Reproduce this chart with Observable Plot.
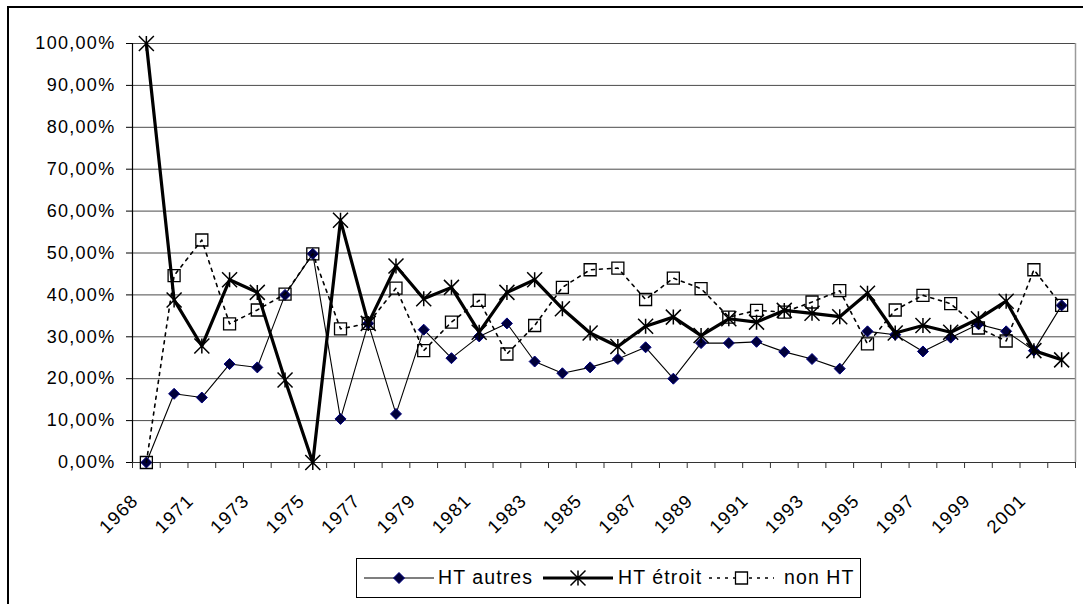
<!DOCTYPE html>
<html>
<head>
<meta charset="utf-8">
<script src="https://cdn.jsdelivr.net/npm/d3@7"></script>
<script src="https://cdn.jsdelivr.net/npm/@observablehq/plot@0.6"></script>
<style>
  html, body { margin: 0; padding: 0; background: #fff; overflow: hidden; }
  #wrap { position: relative; width: 1083px; height: 604px; overflow: hidden; font-family: "Liberation Sans", Arial, sans-serif; }
  #border { position: absolute; left: 7px; top: 6px; width: 3000px; height: 3000px; border-left: 2px solid #000; border-top: 2px solid #000; }
  #chart { position: absolute; left: 0; top: 0; }
  #chart svg text { letter-spacing: 1.3px; }
  #legend { position: absolute; left: 356px; top: 558px; width: 505px; height: 40px; box-sizing: border-box; border: 1px solid #000; background: #fff; }
  #legend .it { position: absolute; top: 0; height: 38px; }
  #legend .tx { position: absolute; top: 6px; font-size: 19.5px; letter-spacing: 1.1px; color: #000; white-space: nowrap; line-height: 24px; }
</style>
</head>
<body>
<div id="wrap">
  <div id="border"></div>
  <div id="chart"></div>
  <div id="legend"></div>
</div>
<script>
// ---- data ----
const years = [1968, 1970, 1971, 1972, 1973, 1974, 1975, 1976, 1977, 1978, 1979, 1980,
  1981, 1982, 1983, 1984, 1985, 1986, 1987, 1988, 1989, 1990, 1991, 1992, 1993, 1994,
  1995, 1996, 1997, 1998, 1999, 2000, 2001, 2002];
const htAutres = [0, 16.4, 15.5, 23.5, 22.7, 40.0, 49.8, 10.4, 33.2, 11.6, 31.7, 24.9,
  30.1, 33.2, 24.1, 21.3, 22.7, 24.7, 27.5, 20.0, 28.5, 28.5, 28.8, 26.4, 24.7, 22.4,
  31.3, 30.5, 26.5, 29.8, 33.0, 31.3, 26.7, 37.5];
const htEtroit = [100, 38.8, 27.8, 43.6, 40.6, 19.7, 0, 57.8, 33.2, 46.9, 39.1, 41.8,
  31.1, 40.6, 43.6, 36.7, 30.9, 27.7, 32.5, 34.7, 30.3, 34.3, 33.5, 36.3, 35.6, 34.8,
  40.4, 30.9, 32.7, 31.1, 34.3, 38.5, 26.7, 24.5];
const nonHT = [0, 44.6, 53.1, 33.1, 36.4, 40.2, 49.8, 31.9, 33.2, 41.6, 26.7, 33.5,
  38.7, 25.9, 32.7, 41.8, 46.0, 46.4, 38.9, 44.0, 41.5, 34.7, 36.3, 35.9, 38.3, 41.0,
  28.3, 36.4, 39.9, 37.9, 32.1, 29.0, 46.0, 37.5];
const yTicks = [0, 10, 20, 30, 40, 50, 60, 70, 80, 90, 100];
const seriesNames = ["HT autres", "HT étroit", "non HT"];

// ---- derived ----
const n = years.length;
const rows = years.map((yr, i) => ({i, year: yr, a: htAutres[i], e: htEtroit[i], h: nonHT[i]}));
const xDomain = [-0.5, n - 0.5];
const boundaries = d3.range(n + 1).map(k => k - 0.5);
const labelIdx = d3.range(0, n, 2);
const fmt = v => v.toFixed(2).replace(".", ",") + "%";

// ---- custom symbols (size = pi r^2) ----
const rad = size => Math.sqrt(size / Math.PI);
const asterisk = {draw(ctx, size) { const r = rad(size);
  ctx.moveTo(-r, -r); ctx.lineTo(r, r); ctx.moveTo(-r, r); ctx.lineTo(r, -r);
  ctx.moveTo(0, -r); ctx.lineTo(0, r); }};
const diamond = {draw(ctx, size) { const r = rad(size);
  ctx.moveTo(0, -r); ctx.lineTo(r, 0); ctx.lineTo(0, r); ctx.lineTo(-r, 0); ctx.closePath(); }};
const square = {draw(ctx, size) { const r = rad(size);
  ctx.moveTo(-r, -r); ctx.lineTo(r, -r); ctx.lineTo(r, r); ctx.lineTo(-r, r); ctx.closePath(); }};

const chart = Plot.plot({
  width: 1083,
  height: 550,
  marginLeft: 132,
  marginRight: 8,
  marginTop: 43,
  marginBottom: 88,
  style: {fontFamily: "'Liberation Sans', Arial, sans-serif", fontSize: "18px", color: "#000", background: "transparent", overflow: "visible"},
  x: {type: "linear", domain: xDomain},
  y: {type: "linear", domain: [0, 100]},
  marks: [
    Plot.ruleY(yTicks, {stroke: "#4a4a4a", strokeWidth: 1}),
    Plot.ruleX([xDomain[1]], {y1: 0, y2: 100, stroke: "#9a9a9a", strokeWidth: 1.5}),
    Plot.ruleX([xDomain[0]], {y1: 0, y2: 100, stroke: "#000", strokeWidth: 1.2}),
    Plot.ruleY([0], {stroke: "#333", strokeWidth: 1.2}),
    Plot.axisY(yTicks, {tickSize: 6, tickPadding: 11, tickFormat: fmt, label: null, stroke: "#000", fontSize: 18}),
    Plot.axisX(boundaries, {tickSize: 6, tickFormat: () => "", label: null, stroke: "#333"}),
    Plot.axisX(labelIdx, {tickSize: 0, tickPadding: 35, dx: -11, tickRotate: -45, tickFormat: i => String(years[i]), label: null, fontSize: 18.5}),
    // HT autres
    Plot.line(rows, {x: "i", y: "a", stroke: "#000", strokeWidth: 1.1}),
    Plot.dot(rows, {x: "i", y: "a", symbol: diamond, r: 5.5, fill: "#00003a", stroke: "#000080", strokeWidth: 1}),
    // HT étroit
    Plot.line(rows, {x: "i", y: "e", stroke: "#000", strokeWidth: 3.2}),
    Plot.dot(rows, {x: "i", y: "e", symbol: asterisk, r: 7.5, fill: "none", stroke: "#000", strokeWidth: 1.5}),
    // non HT
    Plot.line(rows, {x: "i", y: "h", stroke: "#000", strokeWidth: 1.6, strokeDasharray: "3,5"}),
    Plot.dot(rows, {x: "i", y: "h", symbol: square, r: 6, fill: "none", stroke: "#000", strokeWidth: 1.3})
  ]
});
document.getElementById("chart").appendChild(chart);

// ---- legend ----
const legend = document.getElementById("legend");
const ns = "http://www.w3.org/2000/svg";
function sample(left, w, kind) {
  const s = document.createElementNS(ns, "svg");
  s.setAttribute("width", w); s.setAttribute("height", 38);
  s.setAttribute("class", "it"); s.style.left = left + "px";
  const cx = w / 2, cy = 19;
  const line = document.createElementNS(ns, "line");
  line.setAttribute("x1", 0); line.setAttribute("x2", w);
  line.setAttribute("y1", cy); line.setAttribute("y2", cy);
  line.setAttribute("stroke", "#000");
  const m = document.createElementNS(ns, "path");
  if (kind === 0) {
    line.setAttribute("stroke-width", 1.1);
    m.setAttribute("d", `M${cx},${cy-5.5}L${cx+5.5},${cy}L${cx},${cy+5.5}L${cx-5.5},${cy}Z`);
    m.setAttribute("fill", "#00003a"); m.setAttribute("stroke", "#000080");
  } else if (kind === 1) {
    line.setAttribute("stroke-width", 3.2);
    const r = 7.5;
    m.setAttribute("d", `M${cx-r},${cy-r}L${cx+r},${cy+r}M${cx-r},${cy+r}L${cx+r},${cy-r}M${cx},${cy-r}L${cx},${cy+r}`);
    m.setAttribute("fill", "none"); m.setAttribute("stroke", "#000"); m.setAttribute("stroke-width", 1.5);
  } else {
    line.setAttribute("stroke-width", 1.6); line.setAttribute("stroke-dasharray", "3,5");
    const r = 6;
    m.setAttribute("d", `M${cx-r},${cy-r}H${cx+r}V${cy+r}H${cx-r}Z`);
    m.setAttribute("fill", "#fff"); m.setAttribute("stroke", "#000"); m.setAttribute("stroke-width", 1.3);
  }
  s.appendChild(line); s.appendChild(m);
  legend.appendChild(s);
}
function label(left, text) {
  const d = document.createElement("div");
  d.className = "tx"; d.style.left = left + "px"; d.textContent = text;
  legend.appendChild(d);
}
sample(7, 70, 0); label(81, seriesNames[0]);
sample(186, 70, 1); label(261, seriesNames[1]);
sample(352, 65, 2); label(427, seriesNames[2]);
</script>
</body>
</html>
